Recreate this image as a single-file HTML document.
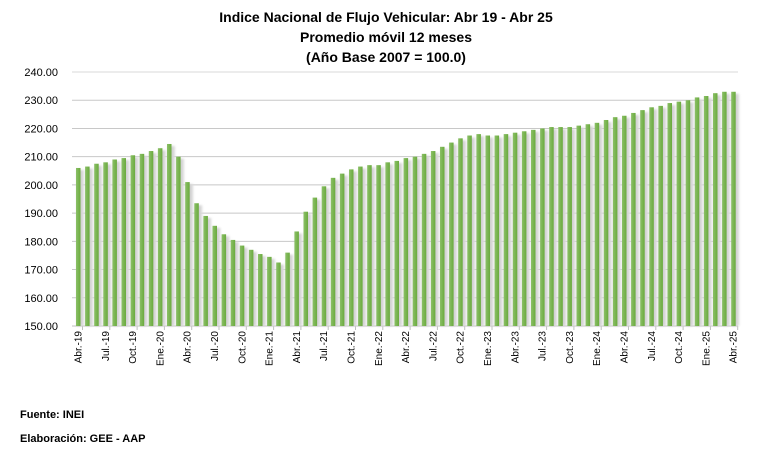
<!DOCTYPE html>
<html><head><meta charset="utf-8"><style>
body{margin:0;background:#fff;width:772px;height:460px;overflow:hidden;font-family:"Liberation Sans",sans-serif}
</style></head><body>
<svg id="s" width="772" height="460" xmlns="http://www.w3.org/2000/svg" font-family="Liberation Sans, sans-serif">
<defs>
<linearGradient id="g" x1="0" x2="1"><stop offset="0" stop-color="#8cc068"/><stop offset="1" stop-color="#6aaa3e"/></linearGradient>
<linearGradient id="sh" x1="0" x2="1"><stop offset="0" stop-color="#bdbdbd"/><stop offset="1" stop-color="#e0e0e0"/></linearGradient>
<filter id="b"><feGaussianBlur stdDeviation="1"/></filter>
</defs>
<g font-weight="bold" font-size="14" text-anchor="middle" fill="#000">
<text x="386" y="22">Indice Nacional de Flujo Vehicular: Abr 19 - Abr 25</text>
<text x="386" y="42">Promedio móvil 12 meses</text>
<text x="386" y="62">(Año Base 2007 = 100.0)</text>
</g>
<g id="grid"></g>
<g id="shg" filter="url(#b)"></g>
<g id="bars"></g>
<g id="lab" font-size="10" fill="#000"></g>
<g font-size="11" font-weight="bold"><text x="20" y="418">Fuente: INEI</text><text x="20" y="442">Elaboración: GEE - AAP</text></g>
</svg>
<script>
const v=[206,206.5,207.5,208,209,209.5,210.5,211,212,213,214.5,210,201,193.5,189,185.5,182.5,180.5,178.5,177,175.5,174.5,172.5,176,183.5,190.5,195.5,199.5,202.5,204,205.5,206.5,207,207,208,208.5,209.5,210,211,212,213.5,215,216.5,217.5,218,217.5,217.5,218,218.5,219,219.5,220,220.5,220.5,220.5,221,221.5,222,223,224,224.5,225.5,226.5,227.5,228,229,229.5,230,231,231.5,232.5,233,233];
const NS="http://www.w3.org/2000/svg";
function el(t,a,p,txt){const e=document.createElementNS(NS,t);for(const k in a)e.setAttribute(k,a[k]);if(txt!==undefined)e.textContent=txt;document.getElementById(p).appendChild(e);return e;}
const Y=x=>326-(x-150)*2.822;
for(let t=150;t<=240;t+=10){el('line',{x1:72,x2:738,y1:Y(t),y2:Y(t),stroke:t==240?'#d9d9d9':'#c8c8c8','stroke-width':1},'grid');
el('text',{x:58,y:Y(t)+4,'text-anchor':'end','font-size':11},'lab',t.toFixed(2));}
el('line',{x1:72,x2:738,y1:326,y2:326,stroke:'#bfbfbf'},'grid');
const m=['Abr.','Jul.','Oct.','Ene.'];
v.forEach((d,i)=>{const x=78+i*9.1;
el('rect',{x:x-1,y:Y(d)+2,width:7,height:326-Y(d)-2,fill:'url(#sh)'},'shg');
el('rect',{x:x-2,y:Y(d),width:4.5,height:326-Y(d),fill:'url(#g)'},'bars');
if(i%3==0){const k=i/3;
let year=19+Math.floor((i+3)/12);
const lbl=m[k%4]+'-'+year;
el('line',{x1:x+4.5,x2:x+4.5,y1:326,y2:330,stroke:'#bfbfbf'},'grid');
el('text',{transform:`translate(${x+3.5},${331}) rotate(-90)`,'text-anchor':'end'},'lab',lbl);}
});
</script>
</body></html>
